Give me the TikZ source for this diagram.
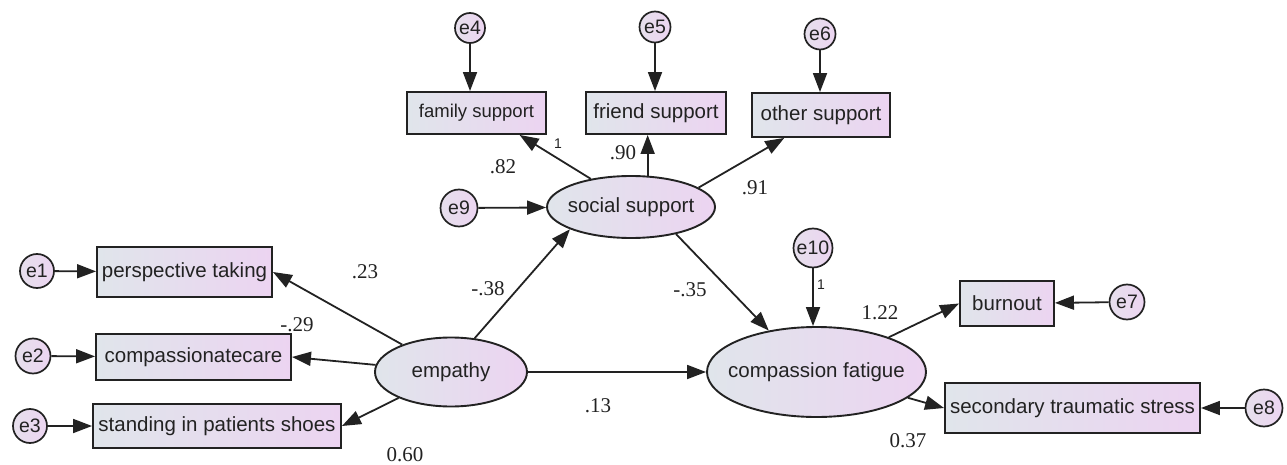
\documentclass[tikz,border=0pt]{standalone}
\usepackage{fontspec}
\setmainfont{Liberation Sans}
\newfontfamily\numfont{Liberation Serif}
\usetikzlibrary{shapes.geometric,arrows.meta,calc}
\definecolor{lc}{HTML}{E0E5EB}
\definecolor{rc}{HTML}{ECD4F1}
\definecolor{elc}{HTML}{E6DFEC}
\definecolor{erc}{HTML}{ECD5F1}
\definecolor{ink}{HTML}{222222}
\tikzset{
  obs/.style={draw=ink, line width=1.9pt, left color=lc, right color=rc, inner sep=0pt,
    font=\fontsize{20.5}{24}\selectfont, text=ink},
  lat/.style={ellipse, draw=ink, line width=1.9pt, left color=lc, right color=rc, inner sep=0pt,
    font=\fontsize{20.5}{24}\selectfont, text=ink},
  err/.style={circle, draw=ink, line width=1.7pt, left color=elc, right color=erc, inner sep=0pt,
    font=\fontsize{19.5}{21}\selectfont, text=ink},
  arr/.style={-{Triangle[length=19pt,width=14pt]}, line width=1.8pt, draw=ink},
  num/.style={font=\numfont\fontsize{21}{24}\selectfont, text=ink, inner sep=0pt},
  one/.style={font=\fontsize{14}{16}\selectfont, text=ink, inner sep=0pt}
}
\begin{document}
\begin{tikzpicture}[x=1pt,y=-1pt]
\useasboundingbox (0,0) rectangle (1287,465);
% observed variables
\node[obs, minimum width=175pt, minimum height=50pt] (pt) at (184.5,272) {perspective taking};
\node[obs, minimum width=195pt, minimum height=46pt] (cc) at (193.5,357) {compassionatecare};
\node[obs, minimum width=248pt, minimum height=44pt] (sps) at (217,426) {standing in patients shoes};
\node[obs, minimum width=139pt, minimum height=42pt, font=\fontsize{18.5}{22}\selectfont] (fam) at (476.5,113) {family support};
\node[obs, minimum width=140pt, minimum height=42pt] (fr) at (656,113) {friend support};
\node[obs, minimum width=138pt, minimum height=44pt] (oth) at (821,115) {other support};
\node[obs, minimum width=94pt, minimum height=45pt] (bo) at (1007,303.5) {burnout};
\node[obs, minimum width=255pt, minimum height=50pt] (sts) at (1072.5,408) {secondary traumatic stress};
% latent variables
\node[lat, minimum width=152pt, minimum height=69pt] (emp) at (451,372) {empathy};
\node[lat, minimum width=168pt, minimum height=62pt, inner xsep=-8pt] (ss) at (631,207) {social support};
\node[lat, minimum width=219pt, minimum height=90pt, inner xsep=-15pt] (cf) at (816.5,372) {compassion fatigue};
% error terms
\node[err, minimum size=34pt] (e1) at (37,271) {e1};
\node[err, minimum size=35pt] (e2) at (33,356) {e2};
\node[err, minimum size=34pt] (e3) at (30,426) {e3};
\node[err, minimum size=30pt] (e4) at (470,28) {e4};
\node[err, minimum size=31pt] (e5) at (655,27) {e5};
\node[err, minimum size=31pt] (e6) at (820,34) {e6};
\node[err, minimum size=37pt] (e9) at (459,208) {e9};
\node[err, minimum size=39pt] (e10) at (813,248) {e10};
\node[err, minimum size=35pt] (e7) at (1127,302) {e7};
\node[err, minimum size=37pt] (e8) at (1264,408) {e8};
% error arrows
\draw[arr] (e1) -- (pt);
\draw[arr] (e2) -- (cc);
\draw[arr] (e3) -- (sps);
\draw[arr] (e4) -- (e4 |- fam.north);
\draw[arr] (e5) -- (e5 |- fr.north);
\draw[arr] (e6) -- (e6 |- oth.north);
\draw[arr] (e9) -- (ss);
\draw[arr] (e10) -- (e10 |- cf.north);
\draw[arr] (e7) -- (bo);
\draw[arr] (e8) -- (sts);
% structural paths
\draw[arr] (emp) -- (pt.east);
\draw[arr] (emp) -- (cc.east);
\draw[arr] (emp) -- (sps.east);
\draw[arr] (emp.55) -- (ss.200);
\draw[arr] (emp) -- (cf);
\draw[arr] (ss.145) -- (fam.-27);
\draw[arr] (ss.62) -- (ss.62 |- fr.south);
\draw[arr] (ss.16) -- (oth.212);
\draw[arr] (ss.-31) -- (cf.139);
\draw[arr] (cf) -- (bo.west);
\draw[arr] (cf) -- (sts.west);
% coefficients
\node[one] (l1) at (558,144) {1};
\node[num] (l82) at (503,167) {.82};
\node[num] (l90) at (623,153) {.90};
\node[num] (l91) at (755,188) {.91};
\node[num] (l23) at (365,272) {.23};
\node[num] (l38) at (488,289) {-.38};
\node[num] (l29) at (297,325) {-.29};
\node[num] (l60) at (405,455) {0.60};
\node[num] (l13) at (598,406) {.13};
\node[num] (l35) at (690,290) {-.35};
\node[one] (l1b) at (821,285) {1};
\node[num] (l122) at (880,313) {1.22};
\node[num] (l37) at (908,441) {0.37};
\end{tikzpicture}
\end{document}
